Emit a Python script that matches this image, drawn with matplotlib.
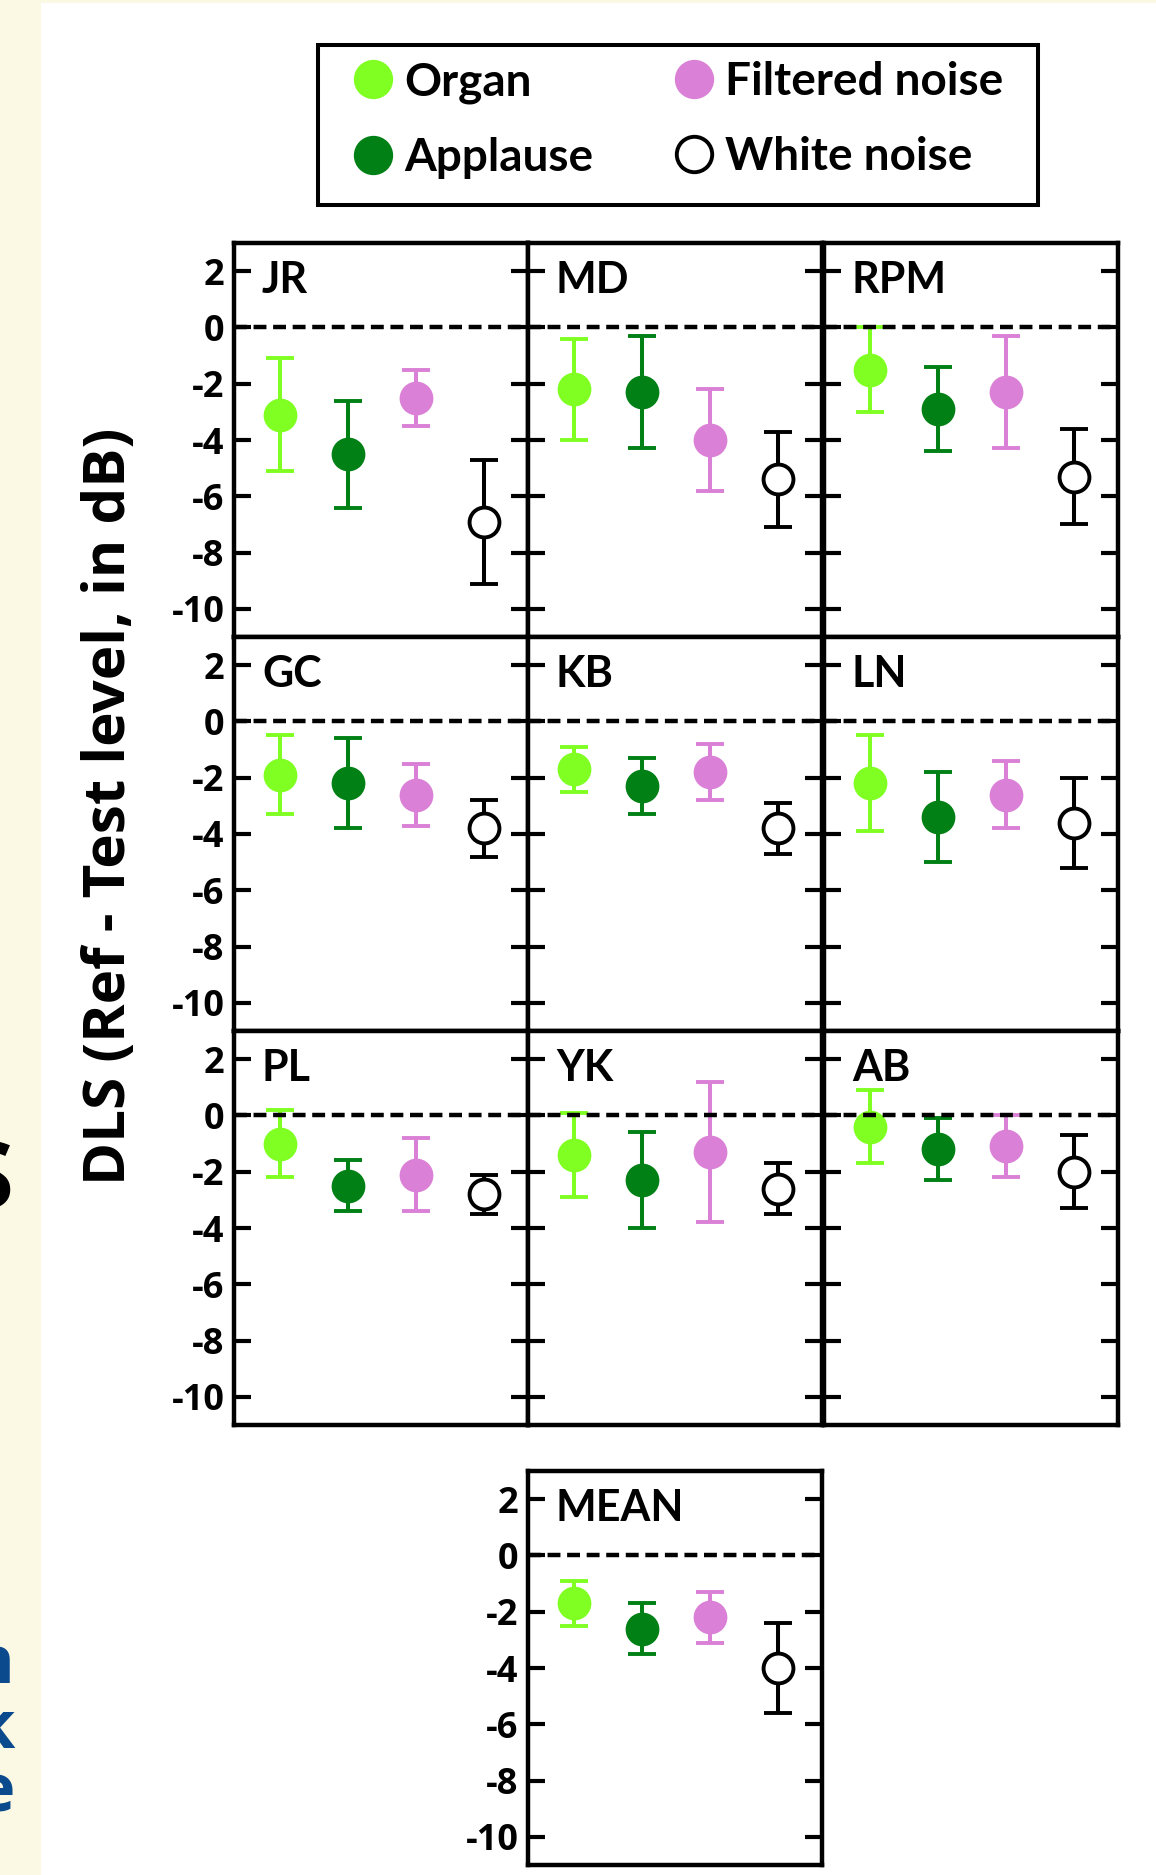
import matplotlib
matplotlib.use("Agg")
import matplotlib.pyplot as plt
from matplotlib.patches import Rectangle
from matplotlib.lines import Line2D
from matplotlib.font_manager import FontProperties

# ---------------- data ----------------
panels = ["JR", "MD", "RPM", "GC", "KB", "LN", "PL", "YK", "AB", "MEAN"]
series = ["Organ", "Applause", "Filtered noise", "White noise"]

organ_mean = [-3.1, -2.2, -1.5, -1.9, -1.7, -2.2, -1.0, -1.4, -0.4, -1.7]
organ_err = [2.0, 1.8, 1.5, 1.4, 0.8, 1.7, 1.2, 1.5, 1.3, 0.8]
applause_mean = [-4.5, -2.3, -2.9, -2.2, -2.3, -3.4, -2.5, -2.3, -1.2, -2.6]
applause_err = [1.9, 2.0, 1.5, 1.6, 1.0, 1.6, 0.9, 1.7, 1.1, 0.9]
filtered_mean = [-2.5, -4.0, -2.3, -2.6, -1.8, -2.6, -2.1, -1.3, -1.1, -2.2]
filtered_err = [1.0, 1.8, 2.0, 1.1, 1.0, 1.2, 1.3, 2.5, 1.1, 0.9]
white_mean = [-6.9, -5.4, -5.3, -3.8, -3.8, -3.6, -2.8, -2.6, -2.0, -4.0]
white_err = [2.2, 1.7, 1.7, 1.0, 0.9, 1.6, 0.7, 0.9, 1.3, 1.6]

y_ticks = [2, 0, -2, -4, -6, -8, -10]
x_pos = [1, 2, 3, 4]

# ---------------- style ----------------
plt.rcParams["font.family"] = ["Open Sans", "DejaVu Sans"]
plt.rcParams["font.weight"] = "bold"
plt.rcParams["axes.unicode_minus"] = False

C_ORGAN = "#80FF22"
C_APPL = "#008015"
C_FILT = "#DA80D6"
C_WHITE = "black"
CREAM = "#FBF8E3"

W, H = 1156, 1875
fig = plt.figure(figsize=(W / 100, H / 100), dpi=100)
fig.patch.set_facecolor("white")

# cream background strips
fig.patches.append(Rectangle((0, 0), 41 / W, 1, transform=fig.transFigure,
                             facecolor=CREAM, edgecolor="none", zorder=0))
fig.patches.append(Rectangle((0, 1 - 3 / H), 1, 3 / H, transform=fig.transFigure,
                             facecolor=CREAM, edgecolor="none", zorder=0))


def px_axes(x0, ytop, w, h):
    return fig.add_axes([x0 / W, 1 - (ytop + h) / H, w / W, h / H])


col_x = [234, 528, 824]
row_top = [243, 637, 1031]
PW, PH = 294, 394

means = [organ_mean, applause_mean, filtered_mean, white_mean]
errs = [organ_err, applause_err, filtered_err, white_err]
colors = [C_ORGAN, C_APPL, C_FILT, C_WHITE]
faces = [C_ORGAN, C_APPL, C_FILT, "white"]

label_font = FontProperties(family=["Lato", "DejaVu Sans"], weight="bold", size=31)

positions = []
for r in range(3):
    for c in range(3):
        positions.append((col_x[c], row_top[r], c == 0))
positions.append((528, 1471, True))

for i, name in enumerate(panels):
    x0, yt, showlab = positions[i]
    ax = px_axes(x0, yt, PW, PH)
    ax.set_xlim(0.32, 4.64)
    ax.set_ylim(-11, 3)
    ax.axhline(0, color="black", lw=3.2, ls=(0, (2.9, 1.5)), zorder=5)
    for k in range(4):
        ax.errorbar(x_pos[k], means[k][i], yerr=errs[k][i], fmt="o",
                    ms=21.5, mfc=faces[k], mec=colors[k], mew=2.8,
                    ecolor=colors[k], elinewidth=2.9, capsize=10,
                    capthick=2.9, zorder=3)
    ax.set_xticks([])
    ax.set_yticks(y_ticks)
    ax.tick_params(axis="y", direction="in", length=12, width=3,
                   left=True, right=True, labelleft=showlab,
                   labelright=False, pad=7, labelsize=26)
    for lab in ax.get_yticklabels():
        lab.set_fontweight("bold")
    for sp in ax.spines.values():
        sp.set_linewidth(3.2)
        sp.set_zorder(6)
    ax.text(0.095, 0.873, name, transform=ax.transAxes, ha="left",
            va="baseline", fontproperties=label_font)

# legend
handles = []
for k in range(4):
    handles.append(Line2D([], [], ls="none", marker="o", ms=25.5,
                          mfc=faces[k], mec=colors[k], mew=2.8))
fig.legend(handles, series, ncol=2, loc="center",
           bbox_to_anchor=(679 / W, 1 - 120 / H), frameon=False,
           prop=FontProperties(family=["Lato", "DejaVu Sans"], weight="bold", size=33),
           handlelength=0.8, handletextpad=0.27, columnspacing=1.8,
           labelspacing=0.72, borderpad=0)
fig.patches.append(Rectangle((318 / W, 1 - 205 / H), (1038 - 318) / W, 160 / H,
                             transform=fig.transFigure, fill=False,
                             edgecolor="black", lw=2.9, zorder=5))

# y label
fig.text(110 / W, 1 - 806 / H, "DLS (Ref - Test level, in dB)", rotation=90,
         ha="center", va="center", fontsize=42, fontweight="bold")

# partial text from the surrounding page (clipped at the left edge)
fig.text(14 / W, 1 - 1208 / H, "S", ha="right", va="baseline", fontsize=68,
         fontweight="bold", color="black")
for ch, yb in [("n", 1683), ("k", 1748), ("e", 1812)]:
    fig.text(15 / W, 1 - yb / H, ch, ha="right", va="baseline", fontsize=48,
             fontweight="bold", color="#0B4A8C")

fig.savefig("out.png", dpi=100, facecolor=fig.get_facecolor())
